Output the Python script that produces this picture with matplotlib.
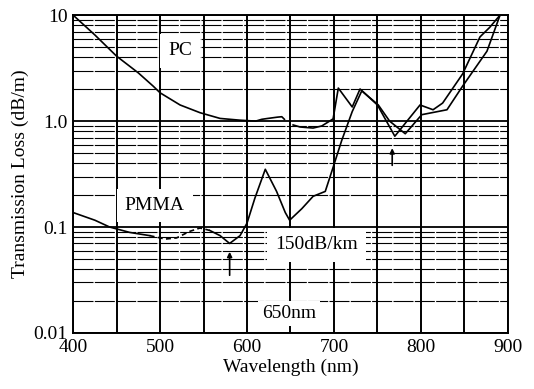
import numpy as np
import matplotlib
matplotlib.use("Agg")
import matplotlib.pyplot as plt
from matplotlib.ticker import FixedLocator, NullFormatter

# values
pc_nm = [400, 425, 450, 475, 492, 500, 523, 546, 569, 592, 610, 617, 624, 635,
         640, 643, 648, 653, 661, 676, 686, 695, 699, 705, 721, 730, 750, 770,
         799, 814, 825, 848, 868, 879, 891]
pc_loss = [10, 6.5, 4.1, 2.85, 2.14, 1.85, 1.42, 1.2, 1.06, 1.02, 1.0, 1.04, 1.06,
           1.09, 1.1, 1.04, np.nan, 0.92, 0.88, 0.86, 0.90, 1.0, 1.05, 2.05, 1.36,
           2.01, 1.42, 0.72, 1.42, 1.28, 1.48, 2.79, 6.24, 7.65, 10]

pmma_nm = [400, 425, 442, 465, 488, 506, 519, 534, 546, 557, 569, 580, 592, 600,
           609, 621, 634, 644, 649, 663, 676, 690, 699, 709, 721, 732, 751, 764,
           782, 801, 830, 848, 876, 891]
pmma_loss = [0.137, 0.116, 0.1, 0.089, 0.083, 0.077, 0.079, 0.091, 0.098, 0.093,
             0.083, 0.070, 0.083, 0.109, 0.187, 0.351, 0.217, 0.137, 0.116, 0.149,
             0.195, 0.217, 0.366, 0.66, 1.23, 1.93, 1.42, 1.0, 0.76, 1.15, 1.28,
             2.14, 4.57, 10]
dash_from, dash_to = 4, 9   # part of the PMMA curve drawn dashed in the original

x_ticks = [400, 500, 600, 700, 800, 900]
y_ticks = [0.01, 0.1, 1.0, 10]
y_ticklabels = ["0.01", "0.1", "1.0", "10"]

plt.rcParams['font.family'] = ['Liberation Serif', 'DejaVu Serif']

fig = plt.figure(figsize=(5.34, 3.89), dpi=100)
ax = fig.add_axes([0.137, 0.144, 0.814, 0.817])

ax.set_yscale('log')
ax.set_xlim(400, 900)
ax.set_ylim(0.01, 10)

# graph-paper style grid
ax.xaxis.set_major_locator(FixedLocator(x_ticks))
ax.xaxis.set_minor_locator(FixedLocator(np.arange(450, 900, 100)))
ax.yaxis.set_major_locator(FixedLocator(y_ticks))
ax.set_yticklabels(y_ticklabels)
ax.yaxis.set_minor_formatter(NullFormatter())
ax.set_axisbelow(True)
ax.grid(axis='x', which='both', color='k', lw=1.4)
ax.grid(axis='y', which='major', color='k', lw=1.3)
ax.grid(axis='y', which='minor', color='k', lw=0.8, ls=(0, (18, 1.2)))
ax.tick_params(which='both', length=0, labelsize=14, pad=4)
for s in ax.spines.values():
    s.set_linewidth(1.4)

pc_nm = np.array(pc_nm); pc_loss = np.array(pc_loss)
pmma_nm = np.array(pmma_nm); pmma_loss = np.array(pmma_loss)

ax.plot(pc_nm, pc_loss, color='k', lw=1.2, zorder=3)
ax.plot(pmma_nm[:dash_from + 1], pmma_loss[:dash_from + 1], color='k', lw=1.2, zorder=3)
ax.plot(pmma_nm[dash_from:dash_to + 1], pmma_loss[dash_from:dash_to + 1],
        color='k', lw=1.2, ls=(0, (3, 2)), zorder=3)
ax.plot(pmma_nm[dash_to:], pmma_loss[dash_to:], color='k', lw=1.2, zorder=3)

box = dict(facecolor='white', edgecolor='none', pad=6)
ax.text(523, 4.6, "PC", ha='center', va='center', fontsize=14, bbox=box)
ax.text(494, 0.16, "PMMA", ha='center', va='center', fontsize=14, bbox=box)
ax.text(680, 0.068, "150dB/km", ha='center', va='center', fontsize=14, bbox=box)
ax.text(648, 0.0154, "650nm", ha='center', va='center', fontsize=14,
        bbox=dict(facecolor='white', edgecolor='none', pad=3))

arrow = dict(arrowstyle='-|>', color='k', lw=1.2, mutation_scale=7)
ax.annotate("", xy=(580, 0.062), xytext=(580, 0.033), arrowprops=arrow)
ax.annotate("", xy=(767, 0.59), xytext=(767, 0.36), arrowprops=arrow)

ax.set_xlabel("Wavelength (nm)", fontsize=14, labelpad=2)
ax.set_ylabel("Transmission Loss (dB/m)", fontsize=14, labelpad=3)

fig.savefig("out.png", dpi=100)
